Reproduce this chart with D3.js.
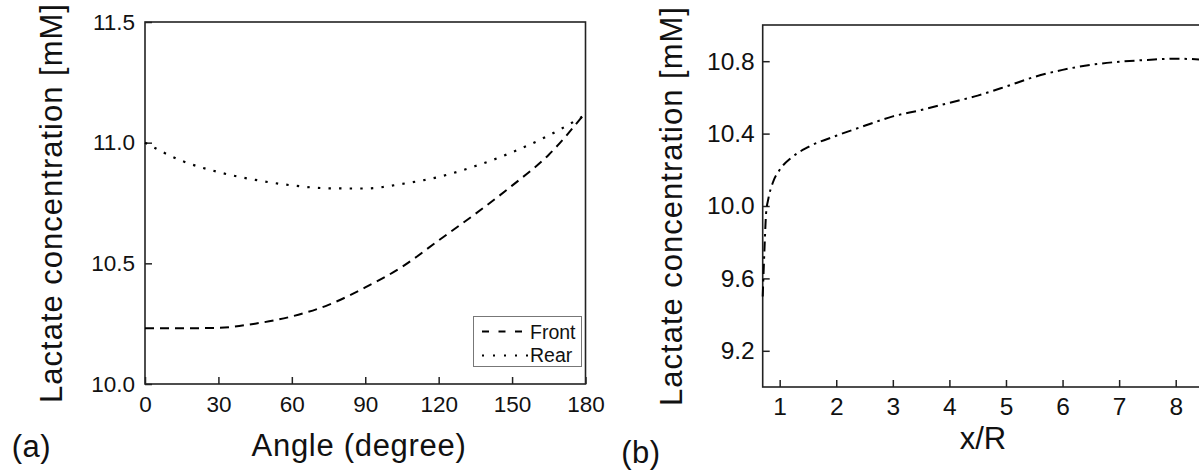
<!DOCTYPE html>
<html>
<head>
<meta charset="utf-8">
<script src="https://cdn.jsdelivr.net/npm/d3@7"></script>
<style>
  html, body { margin: 0; padding: 0; background: #fff; }
  svg { display: block; font-family: "Liberation Sans", Arial, sans-serif; }
</style>
</head>
<body>
<svg id="chart" width="1199" height="470"></svg>
<script>
// Panel (a): lactate concentration vs. angle around the body
const angles = [0, 15, 30, 45, 60, 75, 90, 105, 120, 135, 150, 165, 180];
const frontValues = [10.231, 10.231, 10.233, 10.250, 10.280, 10.328, 10.400, 10.485, 10.595, 10.705, 10.822, 10.950, 11.125];
const rearValues = [11.000, 10.925, 10.878, 10.846, 10.823, 10.811, 10.810, 10.829, 10.858, 10.903, 10.960, 11.030, 11.115];
const angleTicks = [0, 30, 60, 90, 120, 150, 180];
const concTicksA = [10.0, 10.5, 11.0, 11.5];

// Panel (b): lactate concentration along the wake (x/R)
const xr = [0.70, 0.73, 0.76, 0.80, 0.88, 1.0, 1.2, 1.5, 2.0, 2.5, 3.0, 3.5, 4.0, 4.5, 5.0, 5.5, 6.0, 6.5, 7.0, 7.5, 8.0, 8.5];
const wakeValues = [9.50, 9.75, 9.96, 10.04, 10.13, 10.20, 10.265, 10.325, 10.388, 10.443, 10.495, 10.530, 10.570, 10.610, 10.660, 10.713, 10.752, 10.780, 10.797, 10.807, 10.814, 10.808];
const xrTicks = [1, 2, 3, 4, 5, 6, 7, 8];
const concTicksB = [9.2, 9.6, 10.0, 10.4, 10.8];

const svg = d3.select("#chart");
const axisColor = "#222";
const tickLen = 7;
const titleSize = "31px";

function styleAxis(size) {
  return g => {
    g.select(".domain").remove();
    g.selectAll(".tick line").attr("stroke", axisColor).attr("stroke-width", 1.5);
    g.selectAll(".tick text").attr("fill", "#111").style("font-size", size)
      .style("font-family", "'Liberation Sans', Arial, sans-serif");
  };
}

function title(g, text, attrs, spacing) {
  const t = g.append("text").attr("text-anchor", "middle")
    .style("font-size", titleSize).style("letter-spacing", spacing + "px")
    .attr("fill", "#111").text(text);
  Object.entries(attrs).forEach(([k, v]) => t.attr(k, v));
  return t;
}

// ---------- Panel (a) ----------
const A = { left: 145, right: 585.5, top: 22, bottom: 384 };
const xA = d3.scaleLinear().domain([0, 180]).range([A.left, A.right]);
const yA = d3.scaleLinear().domain([10.0, 11.5]).range([A.bottom, A.top]);

const gA = svg.append("g");

gA.append("g")
  .attr("transform", `translate(0,${A.bottom})`)
  .call(d3.axisBottom(xA).tickValues(angleTicks).tickFormat(d3.format("d")).tickSizeInner(-tickLen).tickSizeOuter(0).tickPadding(12))
  .call(styleAxis("22.5px"));

gA.append("g")
  .attr("transform", `translate(${A.left},0)`)
  .call(d3.axisLeft(yA).tickValues(concTicksA).tickFormat(d3.format(".1f")).tickSizeInner(-tickLen).tickSizeOuter(0).tickPadding(10))
  .call(styleAxis("22.5px"));

gA.append("rect")
  .attr("x", A.left).attr("y", A.top)
  .attr("width", A.right - A.left).attr("height", A.bottom - A.top)
  .attr("fill", "none").attr("stroke", axisColor).attr("stroke-width", 1.6);

const lineA = (vals) => d3.line()
  .x((d, i) => xA(angles[i]))
  .y(d => yA(d))
  .curve(d3.curveMonotoneX)(vals);

gA.append("path").attr("d", lineA(frontValues))
  .attr("fill", "none").attr("stroke", "#000").attr("stroke-width", 2)
  .attr("stroke-dasharray", "9,6");

gA.append("path").attr("d", lineA(rearValues))
  .attr("fill", "none").attr("stroke", "#000").attr("stroke-width", 2.2)
  .attr("stroke-dasharray", "2.4,8.2");

// legend
const leg = gA.append("g");
leg.append("rect").attr("x", 473.5).attr("y", 316.5).attr("width", 108).attr("height", 50)
  .attr("fill", "#fff").attr("stroke", "#777").attr("stroke-width", 1);
leg.append("line").attr("x1", 482).attr("x2", 526).attr("y1", 331.5).attr("y2", 331.5)
  .attr("stroke", "#000").attr("stroke-width", 1.8).attr("stroke-dasharray", "7,9.5");
leg.append("line").attr("x1", 482).attr("x2", 528).attr("y1", 355.5).attr("y2", 355.5)
  .attr("stroke", "#000").attr("stroke-width", 2).attr("stroke-dasharray", "2,9");
leg.append("text").attr("x", 530).attr("y", 338.5).text("Front")
  .style("font-size", "19.5px").attr("fill", "#111");
leg.append("text").attr("x", 530).attr("y", 362).text("Rear")
  .style("font-size", "19.5px").attr("fill", "#111");

title(gA, "Lactate concentration [mM]", { transform: `translate(62,${(A.top + A.bottom) / 2}) rotate(-90)` }, 1);
title(gA, "Angle (degree)", { x: 359, y: 456 }, 0.7);
title(gA, "(a)", { x: 31.5, y: 457 }, 0.5);

// ---------- Panel (b) ----------
const B = { left: 762.7, right: 1204, top: 25, bottom: 387 };
const xB = d3.scaleLinear().domain([0.7, 8.5]).range([B.left, B.right]);
const yB = d3.scaleLinear().domain([9.0, 11.0]).range([B.bottom, B.top]);

const gB = svg.append("g");

gB.append("g")
  .attr("transform", `translate(0,${B.bottom})`)
  .call(d3.axisBottom(xB).tickValues(xrTicks).tickFormat(d3.format("d")).tickSizeInner(-tickLen).tickSizeOuter(0).tickPadding(10.5))
  .call(styleAxis("24.5px"));

gB.append("g")
  .attr("transform", `translate(${B.left},0)`)
  .call(d3.axisLeft(yB).tickValues(concTicksB).tickFormat(d3.format(".1f")).tickSizeInner(-tickLen).tickSizeOuter(0).tickPadding(8))
  .call(styleAxis("24.5px"));

gB.append("rect")
  .attr("x", B.left).attr("y", B.top)
  .attr("width", B.right - B.left).attr("height", B.bottom - B.top)
  .attr("fill", "none").attr("stroke", axisColor).attr("stroke-width", 1.6);

const lineB = d3.line()
  .x((d, i) => xB(xr[i]))
  .y(d => yB(d))
  .curve(d3.curveMonotoneX);

gB.append("path").attr("d", lineB(wakeValues))
  .attr("fill", "none").attr("stroke", "#000").attr("stroke-width", 2)
  .attr("stroke-dasharray", "10,5,2.5,5");

title(gB, "Lactate concentration [mM]", { transform: `translate(682,${(B.top + B.bottom) / 2}) rotate(-90)` }, 1);
title(gB, "x/R", { x: 983, y: 449 }, 0);
title(gB, "(b)", { x: 641, y: 463 }, 0.5);
</script>
</body>
</html>
